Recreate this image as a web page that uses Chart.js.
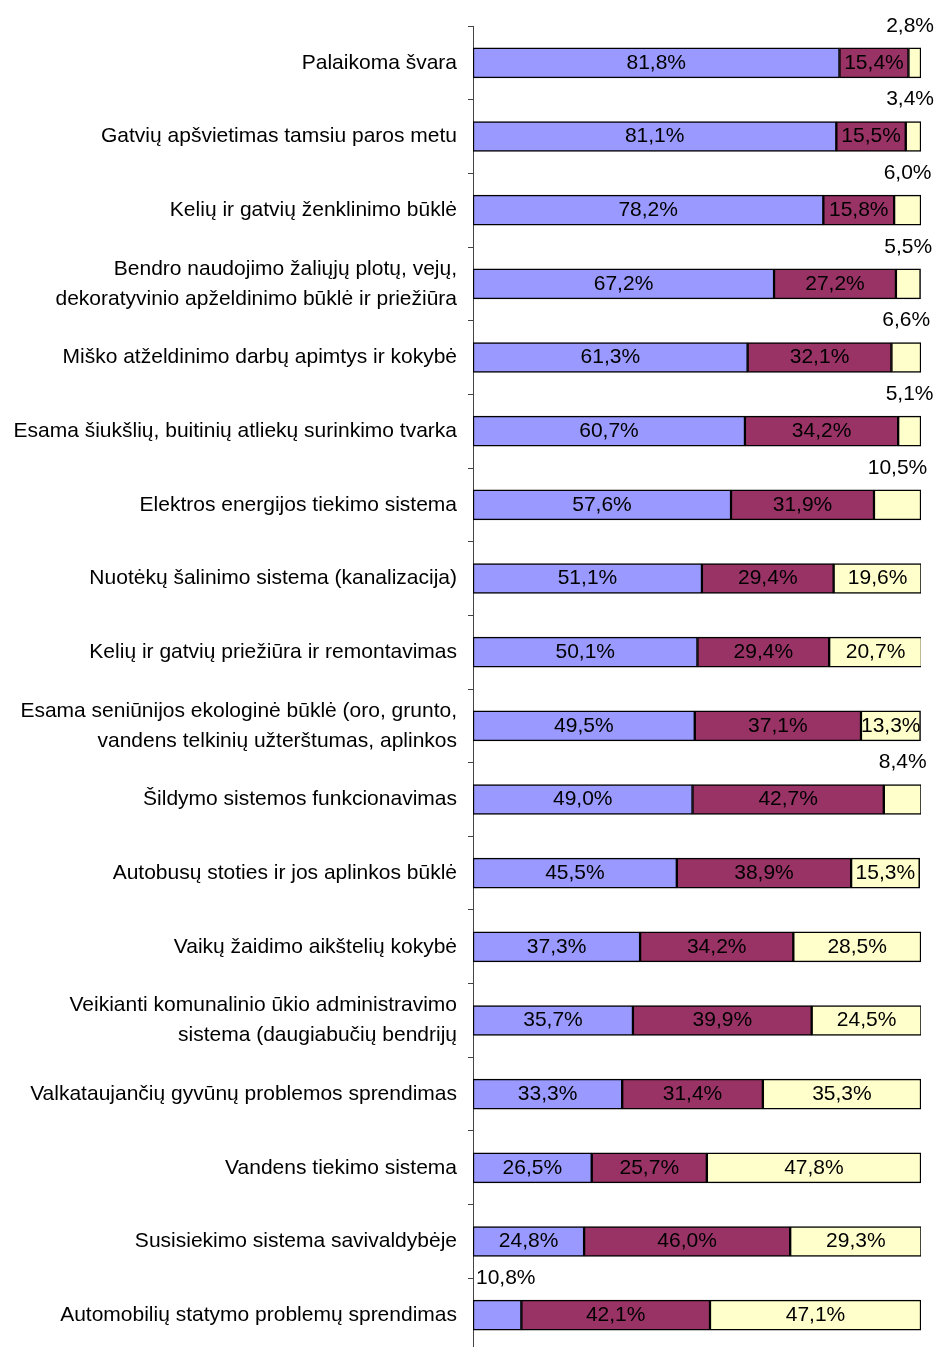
<!DOCTYPE html>
<html>
<head>
  <title>Vertinimas</title>
  <meta charset="UTF-8">
  <script src="https://cdn.jsdelivr.net/npm/chart.js"></script>
  <style>
    body { margin: 0; overflow: hidden; background: #fff; }
  </style>
</head>
<body>
  <canvas id="ratingChart" width="938" height="1378"></canvas>

  <script>
    const categories = [
      'Palaikoma švara',
      'Gatvių apšvietimas tamsiu paros metu',
      'Kelių ir gatvių ženklinimo būklė',
      ['Bendro naudojimo žaliųjų plotų, vejų,', 'dekoratyvinio apželdinimo būklė ir priežiūra'],
      'Miško atželdinimo darbų apimtys ir kokybė',
      'Esama šiukšlių, buitinių atliekų surinkimo tvarka',
      'Elektros energijos tiekimo sistema',
      'Nuotėkų šalinimo sistema (kanalizacija)',
      'Kelių ir gatvių priežiūra ir remontavimas',
      ['Esama seniūnijos ekologinė būklė (oro, grunto,', 'vandens telkinių užterštumas, aplinkos'],
      'Šildymo sistemos funkcionavimas',
      'Autobusų stoties ir jos aplinkos būklė',
      'Vaikų žaidimo aikštelių kokybė',
      ['Veikianti komunalinio ūkio administravimo', 'sistema (daugiabučių bendrijų'],
      'Valkataujančių gyvūnų problemos sprendimas',
      'Vandens tiekimo sistema',
      'Susisiekimo sistema savivaldybėje',
      'Automobilių statymo problemų sprendimas'
    ];

    const blueValues   = [81.8, 81.1, 78.2, 67.2, 61.3, 60.7, 57.6, 51.1, 50.1, 49.5, 49.0, 45.5, 37.3, 35.7, 33.3, 26.5, 24.8, 10.8];
    const maroonValues = [15.4, 15.5, 15.8, 27.2, 32.1, 34.2, 31.9, 29.4, 29.4, 37.1, 42.7, 38.9, 34.2, 39.9, 31.4, 25.7, 46.0, 42.1];
    const yellowValues = [2.8, 3.4, 6.0, 5.5, 6.6, 5.1, 10.5, 19.6, 20.7, 13.3, 8.4, 15.3, 28.5, 24.5, 35.3, 47.8, 29.3, 47.1];

    const FONT = '21px "Liberation Sans", Arial, sans-serif';

    // value labels: inside the bar when it fits, otherwise above it
    const barLabels = {
      id: 'barLabels',
      afterDatasetsDraw(chart) {
        const ctx = chart.ctx;
        ctx.save();
        ctx.font = FONT;
        ctx.fillStyle = '#000';
        ctx.textBaseline = 'middle';
        ctx.textAlign = 'center';
        chart.data.datasets.forEach((ds, i) => {
          const meta = chart.getDatasetMeta(i);
          meta.data.forEach((bar, j) => {
            const p = bar.getProps(['x', 'y', 'base'], true);
            const text = ds.data[j].toFixed(1).replace('.', ',') + '%';
            const w = ctx.measureText(text).width;
            const left = Math.min(p.x, p.base), right = Math.max(p.x, p.base);
            let cx = (left + right) / 2;
            if (right - left >= w - 4) {
              ctx.fillText(text, cx, p.y);
            } else {
              cx = Math.min(cx, 934 - w / 2);
              cx = Math.max(cx, 476 + w / 2);
              ctx.fillText(text, cx, p.y - 37);
            }
          });
        });
        ctx.restore();
      }
    };

    const ctx = document.getElementById('ratingChart').getContext('2d');
    const chart = new Chart(ctx, {
      type: 'bar',
      data: {
        labels: categories,
        datasets: [
          { data: blueValues, backgroundColor: '#9999FF' },
          { data: maroonValues, backgroundColor: '#993366' },
          { data: yellowValues, backgroundColor: '#FFFFCC' }
        ].map(d => Object.assign(d, {
          borderColor: '#000',
          borderWidth: 1.5,
          borderSkipped: false,
          barThickness: 30
        }))
      },
      options: {
        indexAxis: 'y',
        responsive: false,
        animation: false,
        layout: { padding: { top: 24, right: 17, bottom: 4, left: 0 } },
        plugins: {
          legend: { display: false },
          tooltip: { enabled: false }
        },
        scales: {
          x: {
            stacked: true,
            min: 0,
            max: 100,
            display: false
          },
          y: {
            stacked: true,
            afterFit(scale) { scale.width = 473; },
            grid: {
              offset: true,
              drawOnChartArea: false,
              tickLength: 5,
              color: '#444'
            },
            border: { display: true, color: '#444', width: 1 },
            ticks: {
              padding: 11,
              color: '#000',
              autoSkip: false,
              font: { family: '"Liberation Sans", Arial, sans-serif', size: 21, lineHeight: 1.43 }
            }
          }
        }
      },
      plugins: [barLabels]
    });
  </script>
</body>
</html>
